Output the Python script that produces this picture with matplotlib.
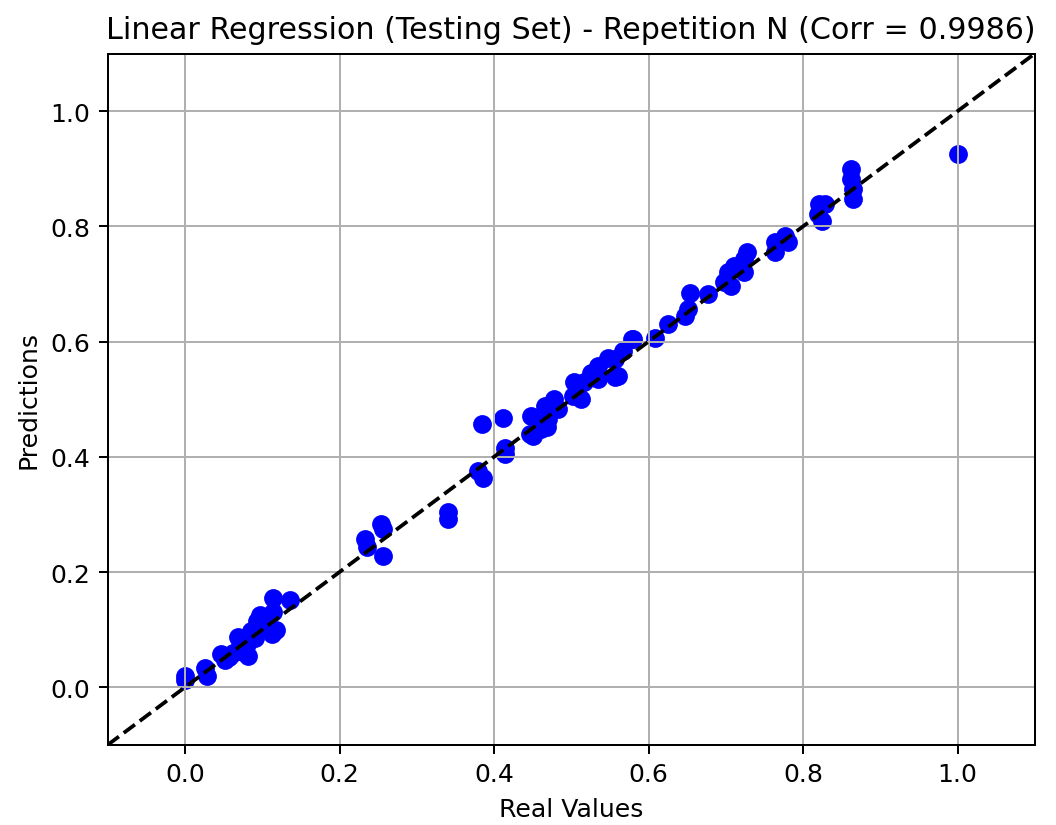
import numpy as np
from matplotlib import pyplot as plt

# real values (x) and predictions (y)
real = [0.000, 0.000, 0.026, 0.028, 0.047, 0.052, 0.057, 0.062, 0.069, 0.071,
        0.075, 0.080, 0.082, 0.085, 0.090, 0.093, 0.097, 0.100, 0.104, 0.108,
        0.112, 0.114, 0.114, 0.118, 0.136,
        0.233, 0.235, 0.254, 0.256, 0.256, 0.340, 0.340,
        0.379, 0.384, 0.386, 0.412, 0.414, 0.414,
        0.446, 0.448, 0.450, 0.461, 0.466, 0.468, 0.470, 0.470, 0.478, 0.483,
        0.502, 0.504, 0.509, 0.513, 0.517, 0.526, 0.534, 0.534, 0.548, 0.556,
        0.556, 0.560, 0.567, 0.578, 0.580, 0.608, 0.625,
        0.647, 0.651, 0.653, 0.677, 0.698, 0.703, 0.707, 0.711, 0.724, 0.724,
        0.728, 0.763, 0.763, 0.776, 0.780,
        0.819, 0.821, 0.825, 0.828, 0.862, 0.862, 0.864, 0.864, 1.000]
pred = [0.020, 0.012, 0.033, 0.020, 0.058, 0.047, 0.052, 0.060, 0.088, 0.072,
        0.062, 0.075, 0.055, 0.098, 0.085, 0.115, 0.125, 0.108, 0.118, 0.105,
        0.092, 0.155, 0.130, 0.100, 0.152,
        0.257, 0.243, 0.283, 0.274, 0.228, 0.305, 0.292,
        0.376, 0.457, 0.364, 0.468, 0.416, 0.405,
        0.439, 0.471, 0.436, 0.448, 0.488, 0.451, 0.486, 0.465, 0.500, 0.483,
        0.506, 0.529, 0.523, 0.500, 0.529, 0.546, 0.558, 0.535, 0.572, 0.569,
        0.538, 0.540, 0.584, 0.604, 0.604, 0.607, 0.630,
        0.645, 0.656, 0.685, 0.682, 0.703, 0.720, 0.697, 0.731, 0.743, 0.720,
        0.755, 0.772, 0.755, 0.784, 0.772,
        0.821, 0.839, 0.810, 0.839, 0.899, 0.882, 0.865, 0.847, 0.925]
corr = 0.9986

fig = plt.figure(figsize=(1056 / 181, 826 / 181), dpi=181)
plt.subplots_adjust(left=0.102, right=0.980, bottom=0.097, top=0.934)
plt.scatter(real, pred, c='blue', s=42)
plt.plot([-0.1, 1.1], [-0.1, 1.1], 'k--')
plt.xlim(-0.1, 1.1)
plt.ylim(-0.1, 1.1)
plt.xlabel("Real Values")
plt.ylabel("Predictions")
plt.title("Linear Regression (Testing Set) - Repetition N (Corr = %.4f)" % corr)
plt.grid(True)
plt.savefig("out.png", dpi=181)
